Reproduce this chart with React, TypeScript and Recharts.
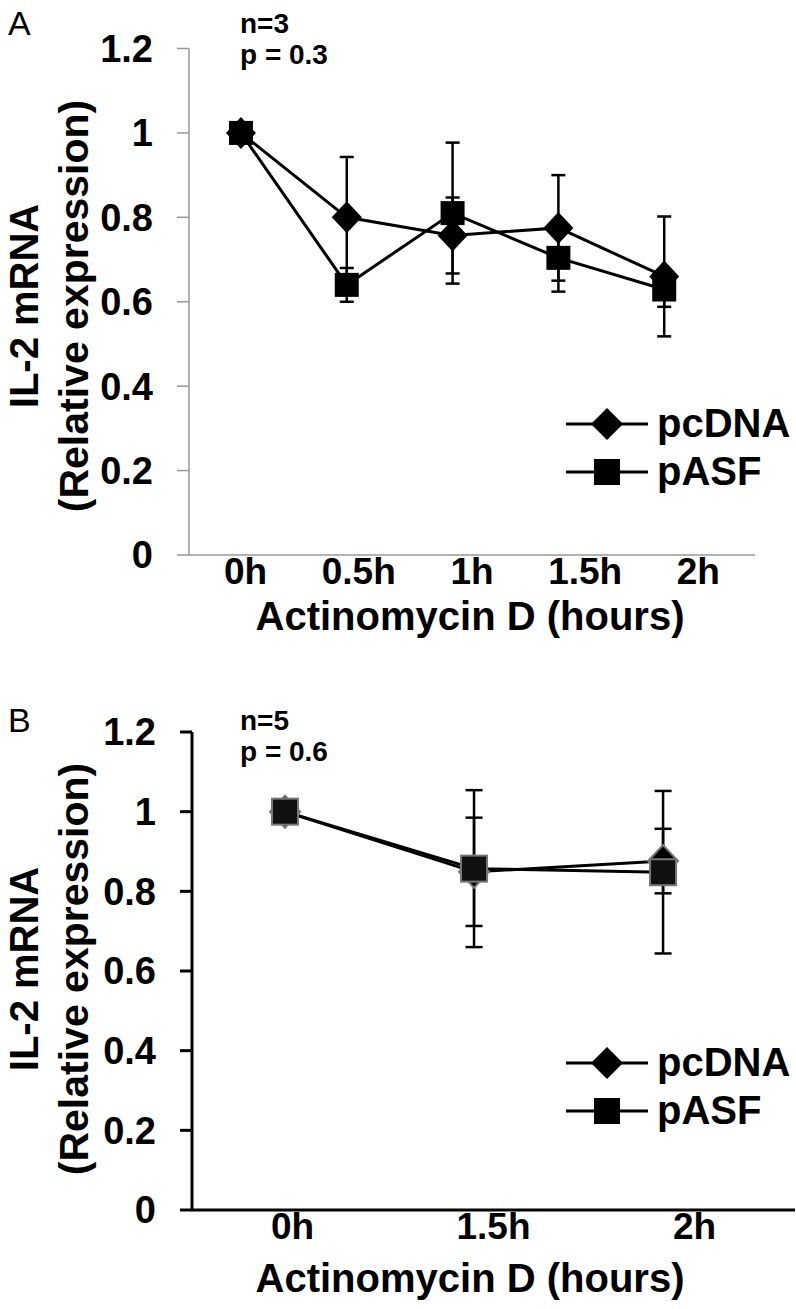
import React from 'react';
import { LineChart, Line, XAxis, YAxis, ErrorBar, Legend } from 'recharts';

// panel A: 5 time points
const timesA = ['0h', '0.5h', '1h', '1.5h', '2h'];
const pcdnaA = [1.0, 0.8, 0.757, 0.775, 0.66];
const pcdnaErrA = [0, 0.143, 0.09, 0.125, 0.142];
const pasfA = [1.0, 0.64, 0.81, 0.704, 0.629];
const pasfErrA = [0, 0.04, 0.167, 0.08, 0.041];

// panel B: 3 time points
const timesB = ['0h', '1.5h', '2h'];
const pcdnaB = [1.0, 0.849, 0.876];
const pcdnaErrB = [0, 0.136, 0.081];
const pasfB = [1.0, 0.857, 0.848];
const pasfErrB = [0, 0.197, 0.204];

const yTicks = [0, 0.2, 0.4, 0.6, 0.8, 1, 1.2];
const seriesNames = ['pcDNA', 'pASF'];

const FONT = '"Liberation Sans", Arial, sans-serif';

interface PanelProps {
  top: number;
  height: number;
  times: string[];
  pc: number[];
  pcErr: number[];
  pa: number[];
  paErr: number[];
  letter: string;
  nText: string;
  pText: string;
  margin: { top: number; right: number; left: number; bottom: number };
  posDomain: [number, number];
  axisColor: string;
  axisWidth: number;
  capHalf: number;
  squareHalf: number;
  markerStroke: string;
  markerStrokeWidth: number;
  letterY: number;
  nY: number;
  xTitleY: number;
  yTitleY: number;
  legendTop: number;
}

function diamondPath(cx: number, cy: number, w: number, h: number) {
  return `M${cx},${cy - h} L${cx + w},${cy} L${cx},${cy + h} L${cx - w},${cy} Z`;
}

function Panel(p: PanelProps) {
  const data = p.times.map((t, i) => ({
    pos: i,
    time: t,
    pcdna: p.pc[i],
    pcdnaErr: p.pcErr[i],
    pasf: p.pa[i],
    pasfErr: p.paErr[i],
  }));
  const idx = p.times.map((_, i) => i);

  const diamondDot = (props: any) => {
    const { cx, cy, index } = props;
    if (cx == null || cy == null) return <g key={`d${index}`} />;
    return (
      <path
        key={`d${index}`}
        d={diamondPath(cx, cy, 15, 16)}
        fill="#000"
        stroke={p.markerStroke}
        strokeWidth={p.markerStrokeWidth}
      />
    );
  };
  const squareDot = (props: any) => {
    const { cx, cy, index } = props;
    if (cx == null || cy == null) return <g key={`s${index}`} />;
    const s = p.squareHalf;
    return (
      <rect
        key={`s${index}`}
        x={cx - s}
        y={cy - s}
        width={s * 2}
        height={s * 2}
        fill={p.markerStroke === '#000' ? '#000' : '#111'}
        stroke={p.markerStroke}
        strokeWidth={p.markerStrokeWidth}
      />
    );
  };

  const annotations = () => (
    <g fontFamily={FONT}>
      <text x={8} y={p.letterY} fontSize={34} fill="#000">
        {p.letter}
      </text>
      <text x={240} y={p.nY} fontSize={28} fontWeight="bold" fill="#000">
        {p.nText}
      </text>
      <text x={240} y={p.nY + 31} fontSize={28} fontWeight="bold" fill="#000">
        {p.pText}
      </text>
      <text
        x={38}
        y={p.yTitleY}
        transform={`rotate(-90, 38, ${p.yTitleY})`}
        textAnchor="middle"
        fontSize={40}
        fontWeight="bold"
        fill="#000"
      >
        IL-2 mRNA
      </text>
      <text
        x={88}
        y={p.yTitleY}
        transform={`rotate(-90, 88, ${p.yTitleY})`}
        textAnchor="middle"
        fontSize={41}
        fontWeight="bold"
        fill="#000"
      >
        (Relative expression)
      </text>
    </g>
  );

  const xTitle = () => (
    <text
      x={470}
      y={p.xTitleY}
      textAnchor="middle"
      fontFamily={FONT}
      fontSize={40}
      fontWeight="bold"
      fill="#000"
    >
      Actinomycin D (hours)
    </text>
  );

  const renderLegend = () => (
    <svg width={236} height={100}>
      {seriesNames.map((name, i) => {
        const cy = 24 + i * 48;
        return (
          <g key={name}>
            <line x1={6} x2={88} y1={cy} y2={cy} stroke="#000" strokeWidth={3} />
            {i === 0 ? (
              <path d={diamondPath(47, cy, 16, 16)} fill="#000" />
            ) : (
              <rect x={47 - 13} y={cy - 13} width={26} height={26} fill="#000" />
            )}
            <text x={97} y={cy + 13} fontFamily={FONT} fontSize={40} fontWeight="bold" fill="#000">
              {name}
            </text>
          </g>
        );
      })}
    </svg>
  );

  const n = p.times.length;

  return (
    <div style={{ position: 'absolute', left: 0, top: p.top }}>
      <LineChart width={796} height={p.height} data={data} margin={p.margin}>
        <XAxis
          xAxisId="lab"
          type="number"
          dataKey="pos"
          domain={[-0.5, n - 0.5]}
          ticks={idx}
          tickFormatter={(v: number) => p.times[v] ?? ''}
          height={60}
          tickSize={0}
          tickMargin={3}
          tickLine={false}
          axisLine={{ stroke: p.axisColor, strokeWidth: p.axisWidth }}
          tick={{ fontSize: 37, fontWeight: 'bold', fill: '#000', fontFamily: FONT }}
          label={{ content: xTitle }}
        />
        <XAxis
          xAxisId="pos"
          type="number"
          dataKey="pos"
          domain={p.posDomain}
          allowDataOverflow
          hide
          height={0}
        />
        <YAxis
          type="number"
          domain={[0, 1.2]}
          ticks={yTicks}
          width={60}
          tickSize={12}
          tickMargin={24}
          axisLine={{ stroke: p.axisColor, strokeWidth: p.axisWidth }}
          tickLine={{ stroke: p.axisColor, strokeWidth: p.axisWidth }}
          tick={{ fontSize: 38, fontWeight: 'bold', fill: '#000', fontFamily: FONT }}
          label={{ content: annotations }}
        />
        <Legend
          layout="vertical"
          align="center"
          verticalAlign="middle"
          content={renderLegend}
          wrapperStyle={{ left: 560, top: p.legendTop, width: 236, height: 100 }}
        />
        <Line
          xAxisId="pos"
          name={seriesNames[0]}
          dataKey="pcdna"
          stroke="#000"
          strokeWidth={3}
          dot={diamondDot}
          isAnimationActive={false}
        >
          <ErrorBar dataKey="pcdnaErr" width={p.capHalf} stroke="#000" strokeWidth={2.5} direction="y" />
        </Line>
        <Line
          xAxisId="pos"
          name={seriesNames[1]}
          dataKey="pasf"
          stroke="#000"
          strokeWidth={3}
          dot={squareDot}
          isAnimationActive={false}
        >
          <ErrorBar dataKey="pasfErr" width={p.capHalf} stroke="#000" strokeWidth={2.5} direction="y" />
        </Line>
      </LineChart>
    </div>
  );
}

export default function App() {
  return (
    <div
      style={{
        position: 'absolute',
        left: 0,
        top: 0,
        width: 796,
        height: 1309,
        background: '#fff',
        overflow: 'hidden',
      }}
    >
      <Panel
        top={0}
        height={650}
        times={timesA}
        pc={pcdnaA}
        pcErr={pcdnaErrA}
        pa={pasfA}
        paErr={pasfErrA}
        letter="A"
        nText="n=3"
        pText="p = 0.3"
        margin={{ top: 48.5, right: 41, left: 129, bottom: 35 }}
        posDomain={[-0.491, 4.858]}
        axisColor="#999"
        axisWidth={1.5}
        capHalf={7}
        squareHalf={12}
        markerStroke="#000"
        markerStrokeWidth={0}
        letterY={35}
        nY={33}
        xTitleY={630}
        yTitleY={306}
        legendTop={400}
      />
      <Panel
        top={650}
        height={659}
        times={timesB}
        pc={pcdnaB}
        pcErr={pcdnaErrB}
        pa={pasfB}
        paErr={pasfErrB}
        letter="B"
        nText="n=5"
        pText="p = 0.6"
        margin={{ top: 82, right: 1, left: 132, bottom: 39 }}
        posDomain={[-0.492, 2.698]}
        axisColor="#000"
        axisWidth={3}
        capHalf={8.5}
        squareHalf={13}
        markerStroke="#777"
        markerStrokeWidth={2}
        letterY={82}
        nY={80}
        xTitleY={642}
        yTitleY={319}
        legendTop={389}
      />
    </div>
  );
}
